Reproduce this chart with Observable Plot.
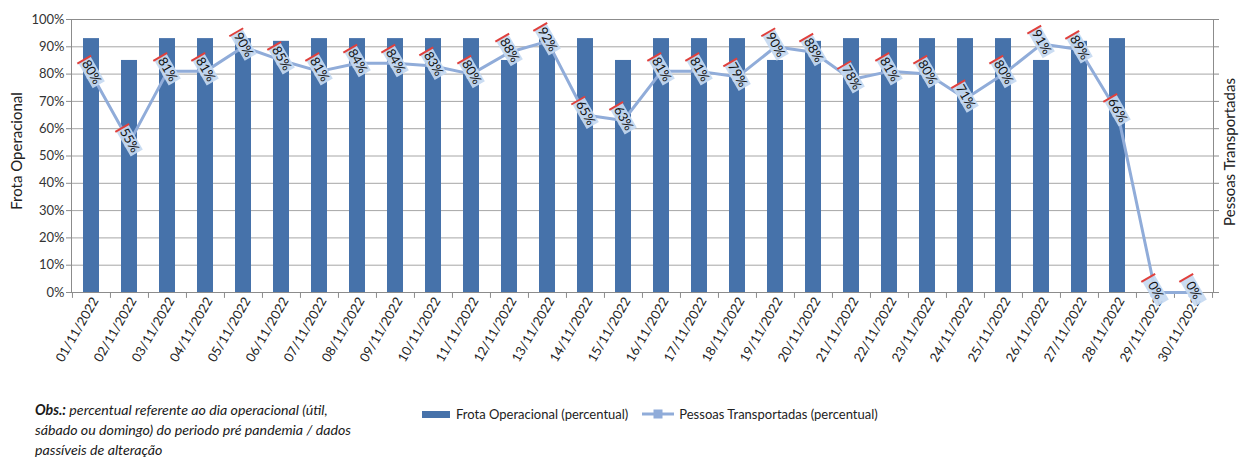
<!DOCTYPE html>
<html>
<head>
<meta charset="utf-8">
<script src="https://cdn.jsdelivr.net/npm/d3@7"></script>
<script src="https://cdn.jsdelivr.net/npm/@observablehq/plot@0.6"></script>
<style>
  html, body { margin: 0; padding: 0; background: #fff; }
  #wrap { position: relative; width: 1243px; height: 459px; font-family: Lato, "Liberation Sans", sans-serif; color: #222; }
  #obs { position: absolute; left: 35px; top: 400px; width: 360px; font-size: 14.2px; font-style: italic; line-height: 20px; color: #1a1a1a; white-space: nowrap; }
  #legend { position: absolute; left: 422px; top: 406px; display: flex; align-items: center; font-size: 13px; color: #222; }
  .sw { display: inline-block; }
</style>
</head>
<body>
<div id="wrap">
  <div id="chart"></div>
  <div id="obs"><b>Obs.:</b> percentual referente ao dia operacional (útil,<br>sábado ou domingo) do periodo pré pandemia / dados<br>passíveis de alteração</div>
  <div id="legend">
    <span class="sw" style="width:28px;height:7px;background:#4672aa;margin-right:6px;"></span>
    <span>Frota Operacional (percentual)</span>
    <svg width="32" height="12" style="margin-left:14px;margin-right:5px;"><line x1="0" y1="6" x2="32" y2="6" stroke="#90acd9" stroke-width="3"/><rect x="11.5" y="1.5" width="9" height="9" fill="#90acd9"/></svg>
    <span>Pessoas Transportadas (percentual)</span>
  </div>
</div>
<script>
const dates = ["01/11/2022","02/11/2022","03/11/2022","04/11/2022","05/11/2022","06/11/2022","07/11/2022","08/11/2022","09/11/2022","10/11/2022",
  "11/11/2022","12/11/2022","13/11/2022","14/11/2022","15/11/2022","16/11/2022","17/11/2022","18/11/2022","19/11/2022","20/11/2022",
  "21/11/2022","22/11/2022","23/11/2022","24/11/2022","25/11/2022","26/11/2022","27/11/2022","28/11/2022","29/11/2022","30/11/2022"];
const frotaOperacional = [93,85,93,93,93,92,93,93,93,93, 93,85,93,93,85,93,93,93,85,92, 93,93,93,93,93,85,92,93,0,0];
const pessoasTransportadas = [80,55,81,81,90,85,81,84,84,83, 80,88,92,65,63,81,81,79,90,88, 78,81,80,71,80,91,89,66,0,0];
const yTicks = [0,10,20,30,40,50,60,70,80,90,100];

const data = dates.map((d, i) => ({date: d, frota: frotaOperacional[i], pessoas: pessoasTransportadas[i]}));

const W = 1243, mL = 71, mR = 30;
const step = (W - mL - mR) / dates.length;

const boxShape = {draw(ctx, l) { ctx.rect(-7, -l / 2, 14, l); }};
const edgeShape = {draw(ctx, l) { ctx.moveTo(-8, l / 2); ctx.lineTo(8, l / 2); }};
const tickShape = {draw(ctx, l) { ctx.moveTo(0, 0); ctx.lineTo(0, -l); }};

const fmt = d => d + "%";

const chart = Plot.plot({
  width: W,
  height: 375,
  marginLeft: mL,
  marginRight: mR,
  marginTop: 19,
  marginBottom: 83,
  style: {fontFamily: "Lato, 'Liberation Sans', sans-serif", fontSize: "13px", color: "#333", background: "#fff"},
  x: {domain: dates, paddingInner: 0.58, paddingOuter: 0.29, label: null},
  y: {domain: [0, 100], label: null},
  marks: [
    Plot.gridY(yTicks, {stroke: "#a6a6a6", strokeOpacity: 1}),
    Plot.barY(data, {x: "date", y: "frota", fill: "#4672aa"}),
    Plot.frame({stroke: "#8c8c8c"}),
    Plot.axisY(yTicks, {tickSize: 5, tickPadding: 2, tickFormat: fmt, stroke: "#8c8c8c", fill: "#333", fontSize: 13, label: null}),
    Plot.axisY(yTicks, {anchor: "right", tickSize: 5, tickFormat: () => "", stroke: "#8c8c8c", label: null}),
    Plot.axisX({tickSize: 0, tickRotate: -60, tickPadding: 6, dx: 4, fill: "#222", fontSize: 13, label: null}),
    Plot.vector(dates, {x: d => d, y: 0, length: 5, rotate: 180, anchor: "start", shape: tickShape, stroke: "#8c8c8c", strokeWidth: 1, dx: -step / 2}),
    Plot.vector(dates.slice(-1), {x: d => d, y: 0, length: 5, rotate: 180, anchor: "start", shape: tickShape, stroke: "#8c8c8c", strokeWidth: 1, dx: step / 2}),
    Plot.text(["Frota Operacional"], {frameAnchor: "left", textAnchor: "middle", rotate: -90, dx: -54, dy: -5, fontSize: 15, fill: "#222"}),
    Plot.text(["Pessoas Transportadas"], {frameAnchor: "right", textAnchor: "middle", rotate: -90, dx: 17, dy: -4, fontSize: 15, fill: "#222"}),
    Plot.line(data, {x: "date", y: "pessoas", stroke: "#90acd9", strokeWidth: 3}),
    Plot.dot(data, {x: "date", y: "pessoas", symbol: "square", r: 5, fill: "#90acd9", stroke: "#a9c0e3", strokeWidth: 1}),
    Plot.vector(data, {x: "date", y: "pessoas", length: 29, rotate: 150, anchor: "start", shape: boxShape, fill: "#c6d9f1", fillOpacity: 0.92, stroke: "none", dy: -2}),
    Plot.vector(data, {x: "date", y: "pessoas", length: 29, rotate: 150, anchor: "start", shape: edgeShape, stroke: "#e0403c", strokeWidth: 2, strokeLinecap: "butt", dy: -2}),
    Plot.text(data, {x: "date", y: "pessoas", text: d => d.pessoas + "%", rotate: 60, fontSize: 13, fill: "#111", dy: -2})
  ]
});
document.getElementById("chart").appendChild(chart);
</script>
</body>
</html>
